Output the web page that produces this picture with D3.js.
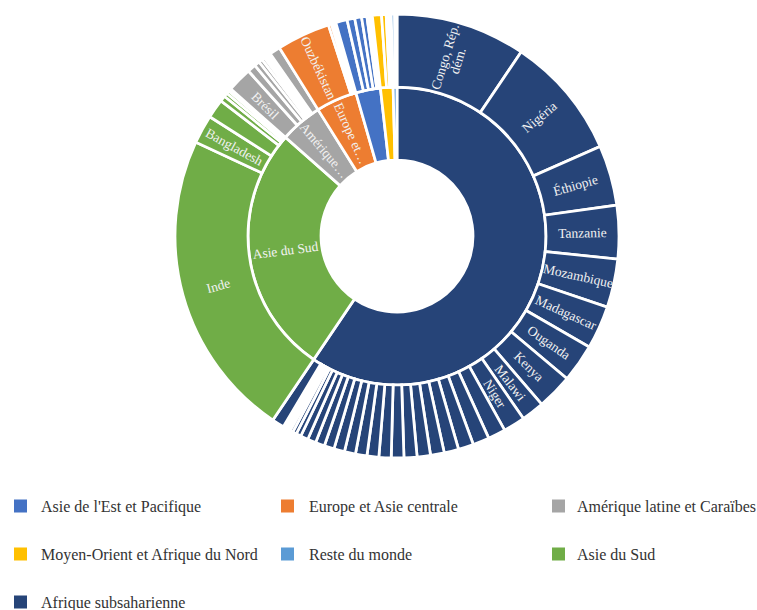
<!DOCTYPE html>
<html><head><meta charset="utf-8">
<script src="https://cdn.jsdelivr.net/npm/d3@7"></script>
<style>body{margin:0;background:#fff} svg{display:block}</style>
</head><body>
<svg id="chart" width="757" height="610"></svg>
<script>
// Regions (inner ring), in drawing order (clockwise from 12 o'clock)
const regions = ["Afrique subsaharienne", "Asie du Sud", "Amérique latine et Caraïbes",
  "Europe et Asie centrale", "Asie de l'Est et Pacifique", "Moyen-Orient et Afrique du Nord", "Reste du monde"];
const regionColors = ["#264478", "#70AD47", "#A5A5A5", "#ED7D31", "#4472C4", "#FFC000", "#5B9BD5"];
const regionLabels = ["", "Asie du Sud", "Amérique…", "Europe et…", "", "", ""];

// Countries (outer ring), estimated values (millions of people)
const afriqueNames = ["Congo, Rép. dém.", "Nigéria", "Éthiopie", "Tanzanie", "Mozambique", "Madagascar",
  "Ouganda", "Kenya", "Malawi", "Niger", "Burkina Faso", "Mali", "Tchad", "Soudan du Sud", "Zambie",
  "Burundi", "Angola", "Somalie", "Soudan", "Cameroun", "Zimbabwe", "Guinée", "Bénin", "Rwanda",
  "Sierra Leone", "Togo", "Libéria", "Rép. centrafricaine", "Côte d'Ivoire", "Ghana", "Sénégal",
  "Lesotho", "Guinée-Bissau", "Gambie", "Eswatini", "Afrique du Sud"];
const afriqueValues = [68, 64.4, 31.6, 28, 25.4, 22.6, 20, 18.6, 12, 11.4,
  9.2, 8.6, 8.0, 7.6, 7.2, 7.0, 6.8, 6.6, 6.4, 6.2, 6.0, 5.8, 5.6, 5.2, 4.8, 4.4, 4.0,
  2.6, 2.0, 1.6, 1.2, 1.0, 0.8, 0.6, 0.4,
  6.4];
const asieSudNames = ["Inde", "Bangladesh", "Pakistan", "Afghanistan", "Népal", "Sri Lanka", "Bhoutan", "Maldives"];
const asieSudValues = [162, 15, 10, 3, 2, 1.6, 1, 0.4];
const ameriqueNames = ["Brésil", "Colombie", "Haïti", "Honduras", "Guatemala", "Bolivie", "Pérou", "Équateur", "Nicaragua", "Venezuela"];
const ameriqueValues = [13, 4.4, 2.8, 2, 1.6, 1.2, 1, 0.8, 0.6, 5.6];
const europeNames = ["Ouzbékistan", "Tadjikistan", "Turquie", "Kirghizistan", "Géorgie"];
const europeValues = [28, 1.6, 1, 0.8, 0.6];
const asieEstNames = ["Indonésie", "Philippines", "Papouasie-Nouvelle-Guinée", "Chine", "Myanmar", "Laos", "Timor-Leste"];
const asieEstValues = [6.0, 4.0, 3.6, 2.8, 1.4, 0.8, 0.6];
const menaNames = ["Yémen", "Syrie", "Égypte", "Irak", "Maroc"];
const menaValues = [4.8, 2.4, 1.2, 0.8, 0.6];
const resteNames = ["Pays à revenu élevé", "Autres"];
const resteValues = [1.8, 1.2];

// Which countries carry a label (lines of text)
const countryLabels = {
  "Congo, Rép. dém.": ["Congo,  Rép.", "dém."],
  "Nigéria": ["Nigéria"], "Éthiopie": ["Éthiopie"], "Tanzanie": ["Tanzanie"],
  "Mozambique": ["Mozambique"], "Madagascar": ["Madagascar"], "Ouganda": ["Ouganda"],
  "Kenya": ["Kenya"], "Malawi": ["Malawi"], "Niger": ["Niger"],
  "Inde": ["Inde"], "Bangladesh": ["Bangladesh"], "Brésil": ["Brésil"], "Ouzbékistan": ["Ouzbékistan"]
};

// Legend order
const legendOrder = ["Asie de l'Est et Pacifique", "Europe et Asie centrale", "Amérique latine et Caraïbes",
  "Moyen-Orient et Afrique du Nord", "Reste du monde", "Asie du Sud", "Afrique subsaharienne"];

const countryNames = [afriqueNames, asieSudNames, ameriqueNames, europeNames, asieEstNames, menaNames, resteNames];
const countryValues = [afriqueValues, asieSudValues, ameriqueValues, europeValues, asieEstValues, menaValues, resteValues];

const data = {
  name: "root",
  children: regions.map((r, i) => ({
    name: r, color: regionColors[i], label: regionLabels[i],
    children: countryNames[i].map((n, j) => ({ name: n, value: countryValues[i][j] }))
  }))
};

const svg = d3.select("#chart");
const cx = 397, cy = 236;
const root = d3.hierarchy(data).sum(d => d.value || 0);
d3.partition().size([2 * Math.PI, 3])(root);
const rScale = d3.scaleLinear().domain([1, 3]).range([76, 222]);

const arc = d3.arc()
  .startAngle(d => d.x0).endAngle(d => d.x1)
  .innerRadius(d => rScale(d.y0)).outerRadius(d => rScale(d.y1));

const g = svg.append("g").attr("transform", `translate(${cx},${cy})`);
const nodes = root.descendants().filter(d => d.depth > 0);
const colorOf = d => (d.depth === 1 ? d : d.parent).data.color;

g.selectAll("path").data(nodes).join("path")
  .attr("d", arc)
  .attr("fill", colorOf)
  .attr("stroke", "#fff")
  .attr("stroke-width", 2.75)
  .attr("stroke-linejoin", "miter");

// Labels
const labelNodes = nodes.map(d => {
  let lines = null;
  if (d.depth === 1 && d.data.label) lines = [d.data.label];
  if (d.depth === 2 && countryLabels[d.data.name]) lines = countryLabels[d.data.name];
  return lines ? { d, lines } : null;
}).filter(Boolean);

const lh = 13.5;
labelNodes.forEach(({ d, lines }) => {
  const a = (d.x0 + d.x1) / 2;
  const deg = a * 180 / Math.PI;
  const rr = rScale((d.y0 + d.y1) / 2);
  const x = rr * Math.sin(a), y = -rr * Math.cos(a);
  const rot = deg < 180 ? deg - 90 : deg - 270;
  const t = g.append("text")
    .attr("transform", `translate(${x},${y}) rotate(${rot})`)
    .attr("text-anchor", "middle")
    .attr("font-family", "'Liberation Serif', 'Times New Roman', serif")
    .attr("font-size", 13.5)
    .attr("fill", "#f2f2f2");
  lines.forEach((ln, i) => {
    t.append("tspan")
      .attr("x", 0)
      .attr("y", (i - (lines.length - 1) / 2) * lh)
      .attr("dy", "0.35em")
      .text(ln);
  });
});

// Legend
const colX = [14, 281, 552], textX = [41, 309, 577], rowY = [506, 554, 602];
const legend = svg.append("g");
legendOrder.forEach((name, k) => {
  const col = k % 3, row = Math.floor(k / 3);
  const color = regionColors[regions.indexOf(name)];
  legend.append("rect")
    .attr("x", colX[col]).attr("y", rowY[row] - 6.5)
    .attr("width", 13).attr("height", 13)
    .attr("fill", color);
  legend.append("text")
    .attr("x", textX[col]).attr("y", rowY[row])
    .attr("dy", "0.35em")
    .attr("font-family", "'Liberation Serif', 'Times New Roman', serif")
    .attr("font-size", 16)
    .attr("fill", "#333333")
    .text(name);
});
</script>
</body></html>
